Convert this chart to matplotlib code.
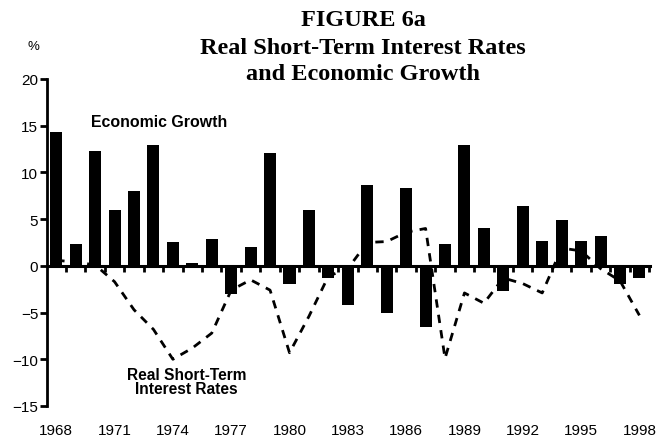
import numpy as np
import matplotlib
matplotlib.use("Agg")
import matplotlib.pyplot as plt
from matplotlib.ticker import FixedLocator

# data
years = list(range(1968, 1999))
growth = [14.3, 2.3, 12.3, 6.0, 8.0, 12.9, 2.6, 0.3, 2.9, -3.0,
          2.0, 12.1, -1.9, 6.0, -1.3, -4.2, 8.6, -5.1, 8.3, -6.5,
          2.3, 12.9, 4.0, -2.7, 6.4, 2.7, 4.9, 2.7, 3.2, -1.9, -1.3]
real_rates = [0.6, 0.4, 0.1, -1.7, -4.7, -6.8, -10.0, -8.8, -7.2, -2.6,
              -1.5, -2.6, -9.3, -5.4, -1.1, -0.3, 2.5, 2.6, 3.6, 4.0,
              -9.9, -2.9, -4.0, -1.3, -1.9, -2.9, 1.9, 1.6, -0.3, -1.6, -5.3]
year_labels = years[::3]
y_ticks = [-15, -10, -5, 0, 5, 10, 15, 20]

plt.rcParams['font.family'] = ['Liberation Sans', 'DejaVu Sans']

fig = plt.figure(figsize=(6.58, 4.39), dpi=100)
ax = fig.add_axes([0.0707, 0.0729, 0.9173, 0.7449])

ax.plot(years, real_rates, color='black', lw=2.0, linestyle=(0, (3, 2.6)),
        zorder=1)
ax.bar(years, growth, width=0.62, color='black', zorder=2)

ax.set_xlim(1967.5, 1998.55)
ax.set_ylim(-15, 20)

# axis styling
for side in ['top', 'right']:
    ax.spines[side].set_visible(False)
ax.spines['left'].set_linewidth(2)
ax.spines['bottom'].set_position(('data', 0))
ax.spines['bottom'].set_linewidth(2.2)

ax.set_yticks(y_ticks)
ax.tick_params(axis='y', direction='out', length=5, width=2, labelsize=11, pad=1)

ax.set_xticks(year_labels)
ax.xaxis.set_minor_locator(FixedLocator([y + 0.5 for y in years]))
ax.tick_params(axis='x', which='major', length=0, labelsize=11, pad=113)
ax.tick_params(axis='x', which='minor', direction='out', length=4, width=2)

# labels
ax.text(1973.3, 15.5, 'Economic Growth', fontsize=11.4, fontweight='bold',
        ha='center', va='center')
ax.text(1974.7, -12.4, 'Real Short-Term\nInterest Rates', fontsize=11.2,
        fontweight='bold', ha='center', va='center', linespacing=0.95)

fig.text(33 / 658, 1 - 47 / 439, '%', fontsize=9.5, ha='center', va='center')

title_font = dict(family=['Liberation Serif', 'DejaVu Serif'], fontweight='bold',
                  fontsize=17.5, ha='center', va='center')
fig.text(363 / 658, 1 - 21 / 439, 'FIGURE 6a', **title_font)
fig.text(363 / 658, 1 - 49 / 439, 'Real Short-Term Interest Rates', **title_font)
fig.text(363 / 658, 1 - 75 / 439, 'and Economic Growth', **title_font)

fig.savefig('out.png', dpi=100)
